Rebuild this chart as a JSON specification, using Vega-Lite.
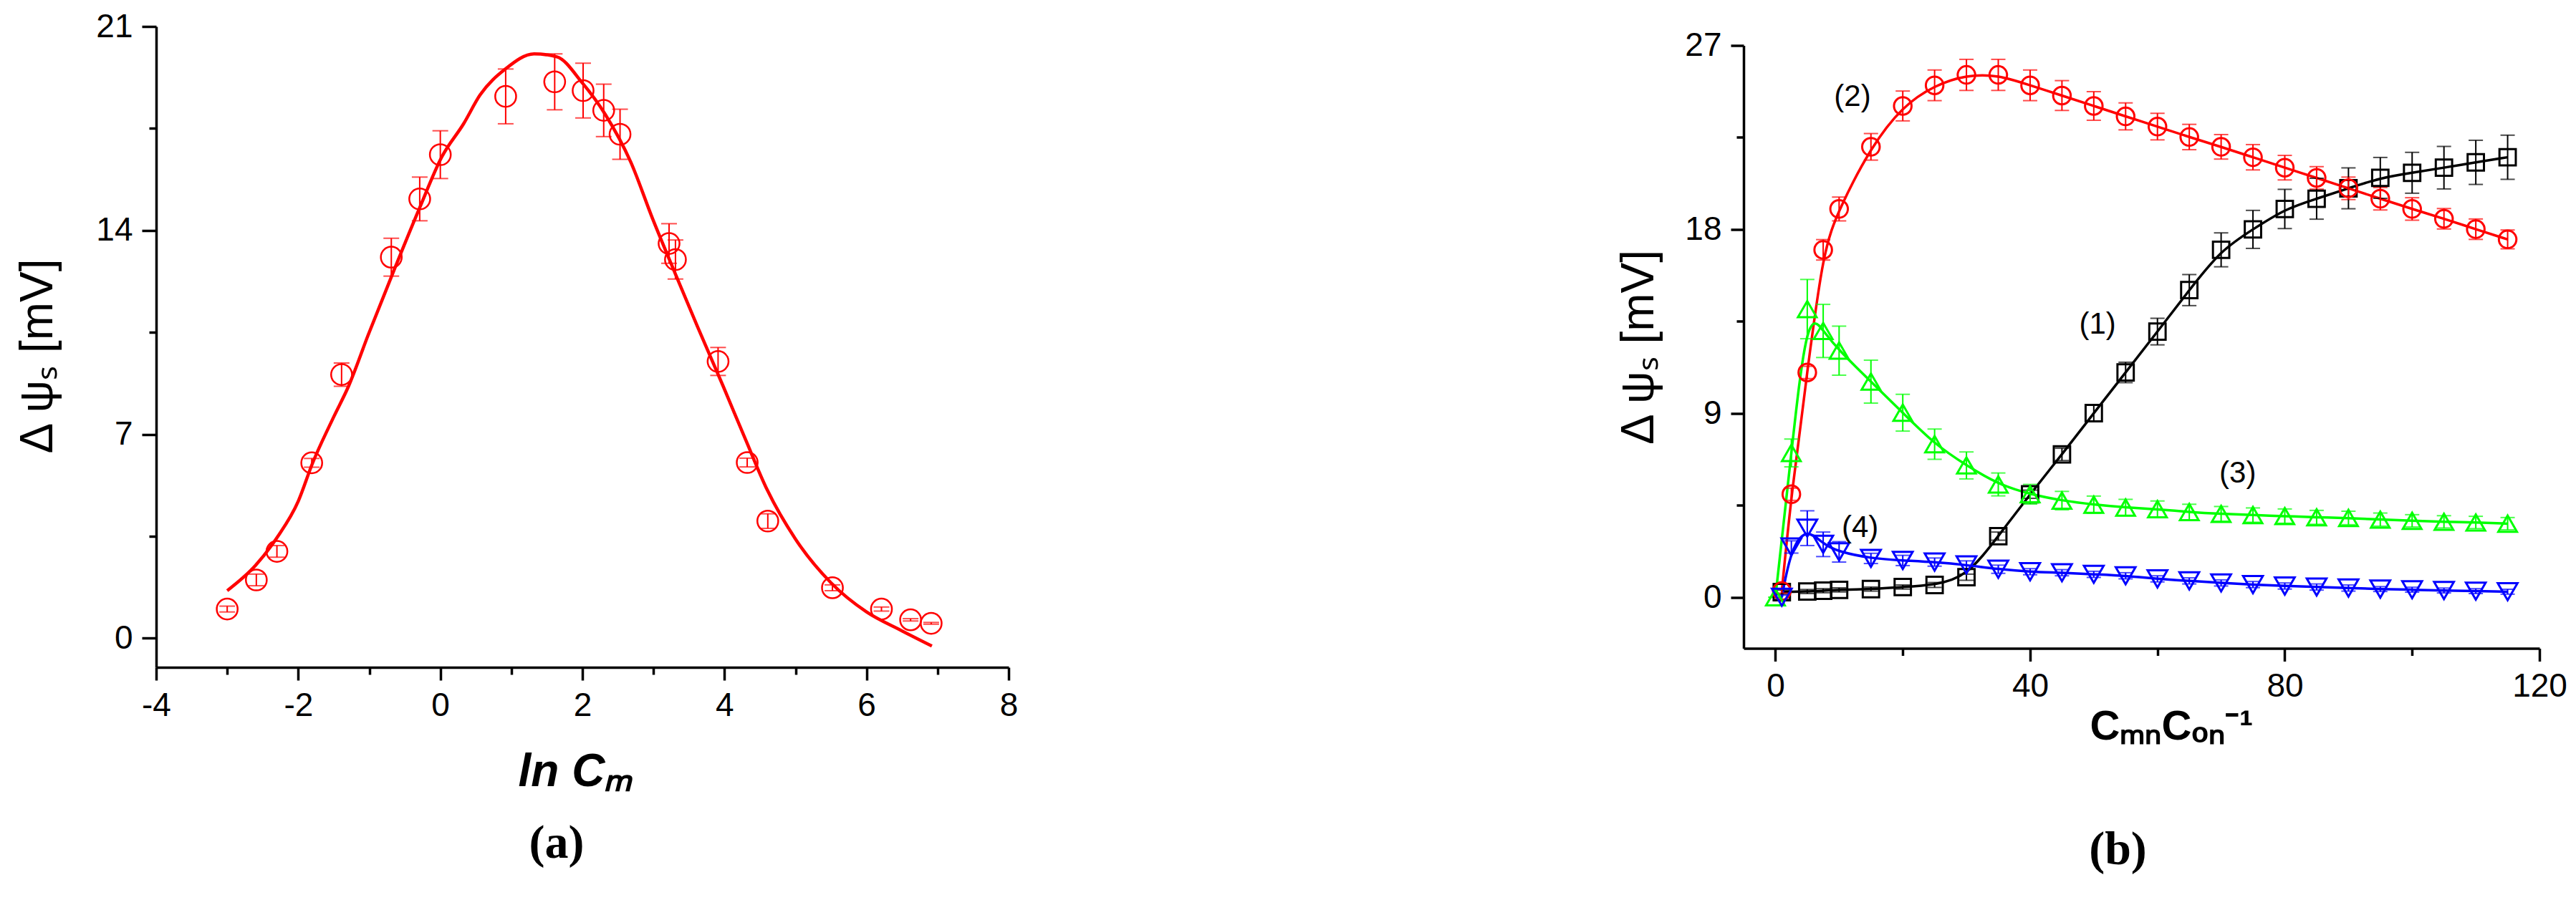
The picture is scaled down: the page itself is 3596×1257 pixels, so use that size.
{
  "$schema": "https://vega.github.io/schema/vega-lite/v6.json",
  "background": "white",
  "padding": {"left": 21, "top": 14, "right": 10, "bottom": 10},
  "bounds": "flush",
  "center": true,
  "spacing": 1026,
  "config": {
    "view": {"stroke": null},
    "axis": {"domainColor": "black", "domainWidth": 3.5, "tickColor": "black", "tickWidth": 3.5, "labelColor": "black", "labelFont": "Liberation Sans", "labelFontSize": 46, "grid": false, "labelOverlap": false, "labelFlush": false, "titleColor": "black"}
  },
  "datasets": {
    "apts": [
      {"x": -3.0, "y": 1.0, "err": 0.1},
      {"x": -2.59, "y": 2.0, "err": 0.2},
      {"x": -2.3, "y": 2.98, "err": 0.2},
      {"x": -1.81, "y": 6.02, "err": 0.15},
      {"x": -1.39, "y": 9.05, "err": 0.4},
      {"x": -0.69, "y": 13.08, "err": 0.65},
      {"x": -0.29, "y": 15.08, "err": 0.75},
      {"x": 0.0, "y": 16.6, "err": 0.82},
      {"x": 0.92, "y": 18.6, "err": 0.94},
      {"x": 1.61, "y": 19.1, "err": 0.96},
      {"x": 2.01, "y": 18.8, "err": 0.94},
      {"x": 2.3, "y": 18.12, "err": 0.9},
      {"x": 2.53, "y": 17.3, "err": 0.86},
      {"x": 3.22, "y": 13.55, "err": 0.68},
      {"x": 3.31, "y": 13.0, "err": 0.67},
      {"x": 3.91, "y": 9.5, "err": 0.48},
      {"x": 4.32, "y": 6.03, "err": 0.15},
      {"x": 4.61, "y": 4.02, "err": 0.25},
      {"x": 5.52, "y": 1.73, "err": 0.1},
      {"x": 6.21, "y": 1.0, "err": 0.07},
      {"x": 6.62, "y": 0.63, "err": 0.04},
      {"x": 6.91, "y": 0.51, "err": 0.03}
    ],
    "acurve": [
      {"x": -3.0, "y": 1.63},
      {"x": -2.6, "y": 2.5},
      {"x": -2.3, "y": 3.45},
      {"x": -2.0, "y": 4.7},
      {"x": -1.8, "y": 6.0},
      {"x": -1.5, "y": 7.6},
      {"x": -1.29, "y": 8.66},
      {"x": -1.02, "y": 10.38},
      {"x": -0.7, "y": 12.34},
      {"x": -0.3, "y": 14.72},
      {"x": 0.02, "y": 16.52},
      {"x": 0.33, "y": 17.67},
      {"x": 0.56, "y": 18.65},
      {"x": 0.92, "y": 19.55},
      {"x": 1.32, "y": 20.06},
      {"x": 1.64, "y": 19.96},
      {"x": 2.0, "y": 19.06},
      {"x": 2.32, "y": 17.99},
      {"x": 2.68, "y": 16.35},
      {"x": 2.99, "y": 14.39},
      {"x": 3.31, "y": 12.5},
      {"x": 3.62, "y": 10.7},
      {"x": 3.98, "y": 8.66},
      {"x": 4.3, "y": 6.8},
      {"x": 4.6, "y": 5.1},
      {"x": 5.0, "y": 3.4},
      {"x": 5.5, "y": 1.9},
      {"x": 6.0, "y": 0.9},
      {"x": 6.5, "y": 0.25},
      {"x": 6.92, "y": -0.27}
    ],
    "b": [
      {"s": "1", "x": 1, "y": 0.25, "err": 0.1},
      {"s": "1", "x": 5, "y": 0.28, "err": 0.1},
      {"s": "1", "x": 7.5, "y": 0.32, "err": 0.1},
      {"s": "1", "x": 10, "y": 0.36, "err": 0.1},
      {"s": "1", "x": 15, "y": 0.4, "err": 0.1},
      {"s": "1", "x": 20, "y": 0.5, "err": 0.1},
      {"s": "1", "x": 25, "y": 0.6, "err": 0.12},
      {"s": "1", "x": 30, "y": 0.98, "err": 0.15},
      {"s": "1", "x": 35, "y": 2.99, "err": 0.2},
      {"s": "1", "x": 40, "y": 5.04, "err": 0.2},
      {"s": "1", "x": 45, "y": 6.99, "err": 0.3},
      {"s": "1", "x": 50, "y": 9.01, "err": 0.4},
      {"s": "1", "x": 55, "y": 11.0, "err": 0.5},
      {"s": "1", "x": 60, "y": 13.0, "err": 0.65},
      {"s": "1", "x": 65, "y": 15.03, "err": 0.76},
      {"s": "1", "x": 70, "y": 17.0, "err": 0.83},
      {"s": "1", "x": 75, "y": 18.0, "err": 0.93},
      {"s": "1", "x": 80, "y": 19.0, "err": 0.96},
      {"s": "1", "x": 85, "y": 19.5, "err": 1.0},
      {"s": "1", "x": 90, "y": 20.01, "err": 1.0},
      {"s": "1", "x": 95, "y": 20.52, "err": 1.0},
      {"s": "1", "x": 100, "y": 20.77, "err": 1.0},
      {"s": "1", "x": 105, "y": 21.02, "err": 1.04},
      {"s": "1", "x": 110, "y": 21.28, "err": 1.08},
      {"s": "1", "x": 115, "y": 21.53, "err": 1.08},
      {"s": "2", "x": 1, "y": 0.3, "err": 0.1},
      {"s": "2", "x": 2.5, "y": 5.04, "err": 0.3},
      {"s": "2", "x": 5, "y": 11.0, "err": 0.3},
      {"s": "2", "x": 7.5, "y": 17.0, "err": 0.5},
      {"s": "2", "x": 10, "y": 19.0, "err": 0.58},
      {"s": "2", "x": 15, "y": 22.04, "err": 0.65},
      {"s": "2", "x": 20, "y": 24.04, "err": 0.73},
      {"s": "2", "x": 25, "y": 25.05, "err": 0.75},
      {"s": "2", "x": 30, "y": 25.56, "err": 0.76},
      {"s": "2", "x": 35, "y": 25.56, "err": 0.76},
      {"s": "2", "x": 40, "y": 25.05, "err": 0.75},
      {"s": "2", "x": 45, "y": 24.55, "err": 0.73},
      {"s": "2", "x": 50, "y": 24.04, "err": 0.7},
      {"s": "2", "x": 55, "y": 23.53, "err": 0.66},
      {"s": "2", "x": 60, "y": 23.03, "err": 0.65},
      {"s": "2", "x": 65, "y": 22.52, "err": 0.62},
      {"s": "2", "x": 70, "y": 22.04, "err": 0.6},
      {"s": "2", "x": 75, "y": 21.53, "err": 0.62},
      {"s": "2", "x": 80, "y": 21.02, "err": 0.6},
      {"s": "2", "x": 85, "y": 20.52, "err": 0.55},
      {"s": "2", "x": 90, "y": 20.01, "err": 0.55},
      {"s": "2", "x": 95, "y": 19.5, "err": 0.55},
      {"s": "2", "x": 100, "y": 19.0, "err": 0.55},
      {"s": "2", "x": 105, "y": 18.52, "err": 0.5},
      {"s": "2", "x": 110, "y": 18.01, "err": 0.5},
      {"s": "2", "x": 115, "y": 17.51, "err": 0.46},
      {"s": "3", "x": 0, "y": 0.0, "err": 0.0},
      {"s": "3", "x": 2.5, "y": 7.06, "err": 0.68},
      {"s": "3", "x": 5, "y": 14.1, "err": 1.45},
      {"s": "3", "x": 7.5, "y": 13.03, "err": 1.3},
      {"s": "3", "x": 10, "y": 12.07, "err": 1.2},
      {"s": "3", "x": 15, "y": 10.55, "err": 1.05},
      {"s": "3", "x": 20, "y": 9.03, "err": 0.9},
      {"s": "3", "x": 25, "y": 7.49, "err": 0.74},
      {"s": "3", "x": 30, "y": 6.45, "err": 0.66},
      {"s": "3", "x": 35, "y": 5.52, "err": 0.56},
      {"s": "3", "x": 40, "y": 5.04, "err": 0.48},
      {"s": "3", "x": 45, "y": 4.73, "err": 0.45},
      {"s": "3", "x": 50, "y": 4.53, "err": 0.42},
      {"s": "3", "x": 55, "y": 4.39, "err": 0.4},
      {"s": "3", "x": 60, "y": 4.31, "err": 0.4},
      {"s": "3", "x": 65, "y": 4.17, "err": 0.38},
      {"s": "3", "x": 70, "y": 4.08, "err": 0.36},
      {"s": "3", "x": 75, "y": 4.02, "err": 0.35},
      {"s": "3", "x": 80, "y": 3.97, "err": 0.35},
      {"s": "3", "x": 85, "y": 3.91, "err": 0.34},
      {"s": "3", "x": 90, "y": 3.88, "err": 0.33},
      {"s": "3", "x": 95, "y": 3.8, "err": 0.32},
      {"s": "3", "x": 100, "y": 3.74, "err": 0.3},
      {"s": "3", "x": 105, "y": 3.69, "err": 0.3},
      {"s": "3", "x": 110, "y": 3.66, "err": 0.3},
      {"s": "3", "x": 115, "y": 3.6, "err": 0.3},
      {"s": "4", "x": 1, "y": 0.0, "err": 0.1},
      {"s": "4", "x": 2.5, "y": 2.46, "err": 0.3},
      {"s": "4", "x": 5, "y": 3.38, "err": 0.85},
      {"s": "4", "x": 7.5, "y": 2.59, "err": 0.6},
      {"s": "4", "x": 10, "y": 2.22, "err": 0.5},
      {"s": "4", "x": 15, "y": 1.9, "err": 0.25},
      {"s": "4", "x": 20, "y": 1.8, "err": 0.25},
      {"s": "4", "x": 25, "y": 1.72, "err": 0.2},
      {"s": "4", "x": 30, "y": 1.58, "err": 0.2},
      {"s": "4", "x": 35, "y": 1.37, "err": 0.2},
      {"s": "4", "x": 40, "y": 1.25, "err": 0.15},
      {"s": "4", "x": 45, "y": 1.2, "err": 0.15},
      {"s": "4", "x": 50, "y": 1.12, "err": 0.15},
      {"s": "4", "x": 55, "y": 1.05, "err": 0.15},
      {"s": "4", "x": 60, "y": 0.9, "err": 0.15},
      {"s": "4", "x": 65, "y": 0.8, "err": 0.15},
      {"s": "4", "x": 70, "y": 0.7, "err": 0.15},
      {"s": "4", "x": 75, "y": 0.62, "err": 0.15},
      {"s": "4", "x": 80, "y": 0.55, "err": 0.15},
      {"s": "4", "x": 85, "y": 0.5, "err": 0.15},
      {"s": "4", "x": 90, "y": 0.45, "err": 0.15},
      {"s": "4", "x": 95, "y": 0.4, "err": 0.12},
      {"s": "4", "x": 100, "y": 0.37, "err": 0.12},
      {"s": "4", "x": 105, "y": 0.33, "err": 0.12},
      {"s": "4", "x": 110, "y": 0.3, "err": 0.12},
      {"s": "4", "x": 115, "y": 0.27, "err": 0.12}
    ],
    "blabels": [
      {"x": 12.1, "y": 24.5, "label": "(2)"},
      {"x": 50.6, "y": 13.34, "label": "(1)"},
      {"x": 72.6, "y": 6.08, "label": "(3)"},
      {"x": 13.3, "y": 3.4, "label": "(4)"}
    ]
  },
  "hconcat": [
    {
      "width": 1190,
      "height": 895,
      "title": {"text": "(a)", "orient": "bottom", "font": "Liberation Serif", "fontSize": 66, "fontWeight": "bold", "color": "black", "offset": 36, "dx": -36, "anchor": "middle"},
      "encoding": {
        "x": {
          "field": "x", "type": "quantitative",
          "scale": {"domain": [-4, 8], "nice": false, "zero": false},
          "axis": {
            "values": [-4, -3, -2, -1, 0, 1, 2, 3, 4, 5, 6, 7, 8],
            "labelExpr": "datum.value % 2 === 0 ? '' + datum.value : ''",
            "tickSize": {"condition": {"test": "datum.value % 2 === 0", "value": 18}, "value": 10},
            "labelPadding": 13,
            "title": "ln Cₘ",
            "titleFont": "Liberation Sans", "titleFontSize": 64, "titleFontWeight": "bold", "titleFontStyle": "italic",
            "titlePadding": 38, "titleX": 585
          }
        },
        "y": {
          "field": "y", "type": "quantitative",
          "scale": {"domain": [-1, 21], "nice": false, "zero": false},
          "axis": {
            "values": [0, 3.5, 7, 10.5, 14, 17.5, 21],
            "labelExpr": "datum.value % 7 === 0 ? '' + datum.value : ''",
            "tickSize": {"condition": {"test": "datum.value % 7 === 0", "value": 20}, "value": 10},
            "labelPadding": 13,
            "title": "Δ ψₛ [mV]",
            "titleFont": "Liberation Sans", "titleFontSize": 64, "titleFontWeight": "normal",
            "titlePadding": 48, "titleY": 460
          }
        }
      },
      "layer": [
        {"data": {"name": "acurve"}, "mark": {"type": "line", "color": "#FF0000", "strokeWidth": 4.5, "interpolate": "monotone"}},
        {"data": {"name": "apts"}, "mark": {"type": "errorbar", "color": "#FF0000", "ticks": {"size": 22}, "thickness": 2}, "encoding": {"yError": {"field": "err"}}},
        {"data": {"name": "apts"}, "mark": {"type": "point", "shape": "circle", "filled": false, "color": "#FF0000", "size": 850, "strokeWidth": 2.5, "opacity": 1}}
      ]
    },
    {
      "width": 1111,
      "height": 842,
      "title": {"text": "(b)", "orient": "bottom", "font": "Liberation Serif", "fontSize": 66, "fontWeight": "bold", "color": "black", "offset": 110, "dx": -33, "anchor": "middle"},
      "encoding": {
        "x": {
          "field": "x", "type": "quantitative",
          "scale": {"domain": [-5, 120], "nice": false, "zero": false},
          "axis": {
            "values": [0, 20, 40, 60, 80, 100, 120],
            "labelExpr": "datum.value % 40 === 0 ? '' + datum.value : ''",
            "tickSize": {"condition": {"test": "datum.value % 40 === 0", "value": 18}, "value": 10},
            "labelPadding": 13,
            "title": "CₘₙCₒₙ⁻¹",
            "titleFont": "Liberation Sans", "titleFontSize": 58, "titleFontWeight": "bold",
            "titlePadding": 5, "titleX": 597
          }
        },
        "y": {
          "field": "y", "type": "quantitative",
          "scale": {"domain": [-2.5, 27], "nice": false, "zero": false},
          "axis": {
            "values": [0, 4.5, 9, 13.5, 18, 22.5, 27],
            "labelExpr": "datum.value % 9 === 0 ? '' + datum.value : ''",
            "tickSize": {"condition": {"test": "datum.value % 9 === 0", "value": 18}, "value": 10},
            "labelPadding": 13,
            "title": "Δ ψₛ [mV]",
            "titleFont": "Liberation Sans", "titleFontSize": 64, "titleFontWeight": "normal",
            "titlePadding": 31
          }
        },
        "color": {"field": "s", "type": "nominal", "scale": {"domain": ["1", "2", "3", "4"], "range": ["#000000", "#FF0000", "#00FF00", "#0000FF"]}, "legend": null}
      },
      "layer": [
        {"data": {"name": "b"}, "mark": {"type": "line", "strokeWidth": 3.5, "interpolate": "basis"}},
        {"data": {"name": "b"}, "mark": {"type": "errorbar", "ticks": {"size": 20}, "thickness": 2}, "encoding": {"yError": {"field": "err"}}},
        {"data": {"name": "b"}, "mark": {"type": "point", "filled": false, "strokeWidth": 3, "opacity": 1},
         "encoding": {
           "shape": {"field": "s", "type": "nominal", "scale": {"domain": ["1", "2", "3", "4"], "range": ["square", "circle", "triangle-up", "triangle-down"]}, "legend": null},
           "size": {"field": "s", "type": "nominal", "scale": {"domain": ["1", "2", "3", "4"], "range": [520, 760, 1100, 1100]}, "legend": null}
         }},
        {"data": {"name": "blabels"}, "mark": {"type": "text", "font": "Liberation Sans", "fontSize": 42}, "encoding": {"text": {"field": "label"}, "color": {"value": "black"}}}
      ]
    }
  ]
}
